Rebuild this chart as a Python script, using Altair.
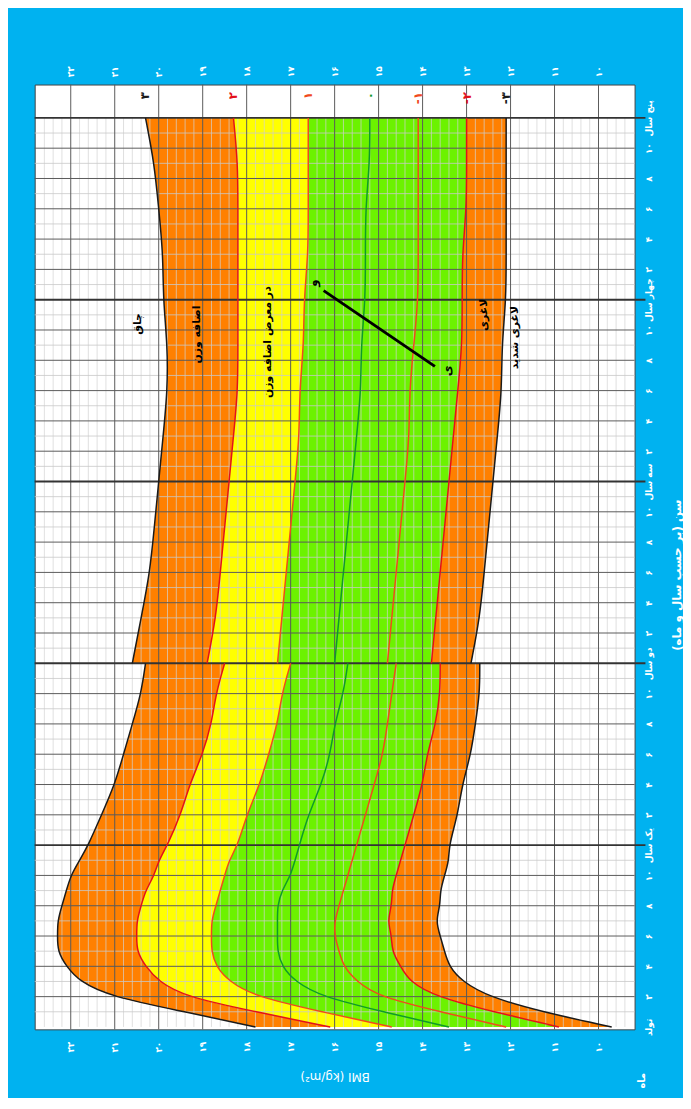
import json
import altair as alt
import pandas as pd

# ---------------- data (WHO BMI-for-age, boys) ----------------
ages_len = list(range(0, 25))      # birth .. 2 years (length based)
ages_hgt = list(range(24, 61))     # 2 .. 5 years (height based)

sd3_len  = [17.8, 19.4, 21.1, 21.8, 22.1, 22.3, 22.3, 22.3, 22.2, 22.1, 22.0, 21.8, 21.6, 21.5, 21.3, 21.2, 21.0, 20.9, 20.8, 20.7, 20.6, 20.5, 20.4, 20.3, 20.3]
sd2_len  = [16.1, 17.8, 19.4, 20.0, 20.3, 20.5, 20.5, 20.5, 20.4, 20.3, 20.1, 20.0, 19.8, 19.7, 19.5, 19.4, 19.3, 19.1, 19.0, 18.9, 18.8, 18.7, 18.7, 18.6, 18.5]
sd1_len  = [14.7, 16.3, 17.8, 18.4, 18.7, 18.8, 18.8, 18.8, 18.7, 18.6, 18.5, 18.4, 18.2, 18.1, 18.0, 17.8, 17.7, 17.6, 17.5, 17.4, 17.3, 17.2, 17.2, 17.1, 17.0]
sd0_len  = [13.4, 14.9, 16.3, 16.9, 17.2, 17.3, 17.3, 17.3, 17.3, 17.2, 17.0, 16.9, 16.8, 16.7, 16.6, 16.4, 16.3, 16.2, 16.1, 16.1, 16.0, 15.9, 15.8, 15.8, 15.7]
sd1n_len = [12.1, 13.6, 15.0, 15.5, 15.8, 15.9, 16.0, 16.0, 15.9, 15.8, 15.7, 15.6, 15.5, 15.4, 15.3, 15.2, 15.1, 15.0, 14.9, 14.9, 14.8, 14.7, 14.7, 14.6, 14.6]
sd2n_len = [10.9, 12.4, 13.7, 14.3, 14.5, 14.7, 14.7, 14.8, 14.7, 14.7, 14.6, 14.5, 14.4, 14.3, 14.2, 14.1, 14.0, 13.9, 13.9, 13.8, 13.7, 13.7, 13.6, 13.6, 13.6]
sd3n_len = [9.7, 11.3, 12.5, 13.1, 13.4, 13.5, 13.6, 13.7, 13.6, 13.6, 13.5, 13.4, 13.4, 13.3, 13.2, 13.1, 13.1, 13.0, 12.9, 12.9, 12.8, 12.8, 12.7, 12.7, 12.7]

sd3_hgt  = [20.6, 20.5, 20.5, 20.4, 20.4, 20.3, 20.2, 20.2, 20.1, 20.1, 20.0, 20.0, 20.0, 19.9, 19.9, 19.9, 19.9, 19.9, 19.8, 19.8, 19.8, 19.8, 19.8, 19.9, 19.9, 19.9, 19.9, 19.9, 19.9, 20.0, 20.0, 20.0, 20.1, 20.1, 20.2, 20.2, 20.3]
sd2_hgt  = [18.9, 18.8, 18.8, 18.7, 18.7, 18.6, 18.6, 18.5, 18.5, 18.5, 18.4, 18.4, 18.4, 18.3, 18.3, 18.3, 18.2, 18.2, 18.2, 18.2, 18.2, 18.2, 18.2, 18.2, 18.2, 18.2, 18.2, 18.2, 18.2, 18.2, 18.2, 18.2, 18.2, 18.2, 18.3, 18.3, 18.3]
sd1_hgt  = [17.3, 17.3, 17.3, 17.2, 17.2, 17.1, 17.1, 17.1, 17.0, 17.0, 17.0, 16.9, 16.9, 16.9, 16.8, 16.8, 16.8, 16.8, 16.8, 16.7, 16.7, 16.7, 16.7, 16.7, 16.7, 16.7, 16.7, 16.6, 16.6, 16.6, 16.6, 16.6, 16.6, 16.6, 16.6, 16.6, 16.6]
sd0_hgt  = [16.0, 16.0, 15.9, 15.9, 15.9, 15.8, 15.8, 15.8, 15.7, 15.7, 15.7, 15.6, 15.6, 15.6, 15.5, 15.5, 15.5, 15.5, 15.4, 15.4, 15.4, 15.4, 15.4, 15.3, 15.3, 15.3, 15.3, 15.3, 15.3, 15.3, 15.3, 15.2, 15.2, 15.2, 15.2, 15.2, 15.2]
sd1n_hgt = [14.8, 14.8, 14.8, 14.7, 14.7, 14.7, 14.6, 14.6, 14.6, 14.5, 14.5, 14.5, 14.4, 14.4, 14.4, 14.3, 14.3, 14.3, 14.3, 14.2, 14.2, 14.2, 14.2, 14.2, 14.1, 14.1, 14.1, 14.1, 14.1, 14.1, 14.1, 14.1, 14.1, 14.1, 14.1, 14.1, 14.1]
sd2n_hgt = [13.8, 13.8, 13.7, 13.7, 13.6, 13.6, 13.6, 13.5, 13.5, 13.5, 13.4, 13.4, 13.4, 13.3, 13.3, 13.3, 13.2, 13.2, 13.2, 13.2, 13.1, 13.1, 13.1, 13.1, 13.1, 13.1, 13.1, 13.1, 13.0, 13.0, 13.0, 13.0, 13.0, 13.0, 13.0, 13.0, 13.0]
sd3n_hgt = [12.9, 12.8, 12.8, 12.7, 12.7, 12.7, 12.6, 12.6, 12.5, 12.5, 12.5, 12.4, 12.4, 12.4, 12.3, 12.3, 12.3, 12.2, 12.2, 12.2, 12.2, 12.2, 12.2, 12.1, 12.1, 12.1, 12.1, 12.1, 12.1, 12.1, 12.1, 12.1, 12.1, 12.1, 12.1, 12.1, 12.1]

z_keys = ["sd3", "sd2", "sd1", "sd0", "sd1n", "sd2n", "sd3n"]
z_line_colors = ["#1a1a1a", "#E3101A", "#F04A1C", "#0E9A2A", "#F04A1C", "#E3101A", "#1a1a1a"]
z_label_text = ["۳", "۲", "۱", "۰", "-۱", "-۲", "-۳"]

band_hi = ["sd3", "sd2", "sd1", "sd2n"]
band_lo = ["sd2", "sd1", "sd2n", "sd3n"]
band_fill = ["#FF8000", "#FFFF00", "#6CF200", "#FF8000"]

bmi_ticks = list(range(10, 23))
bmi_tick_labels = ["۱۰", "۱۱", "۱۲", "۱۳", "۱۴", "۱۵", "۱۶", "۱۷", "۱۸", "۱۹", "۲۰", "۲۱", "۲۲"]
age_ticks = list(range(0, 61, 2))
year_labels = ["تولد", "یک سال", "دو سال", "سه سال", "چهار سال", "پنج سال"]
month_labels = ["۲", "۴", "۶", "۸", "۱۰"]
year_lines = [12, 24, 36, 48, 60]

zone_text = ["چاق", "اضافه وزن", "در معرض اضافه وزن", "لاغری", "لاغری شدید"]
zone_bmi = [20.47, 19.12, 17.51, 12.61, 11.89]
zone_age = [46.4, 45.7, 45.2, 47.0, 45.5]

note_bmi = [16.25, 13.72]
note_age = [48.6, 43.6]
note_text = ["و", "ی"]
note_text_bmi = [16.5, 13.45]
note_text_age = [49.1, 43.3]

# ---------------- tables ----------------
S_len = dict(zip(z_keys, [sd3_len, sd2_len, sd1_len, sd0_len, sd1n_len, sd2n_len, sd3n_len]))
S_hgt = dict(zip(z_keys, [sd3_hgt, sd2_hgt, sd1_hgt, sd0_hgt, sd1n_hgt, sd2n_hgt, sd3n_hgt]))
# points used for drawing the smooth curves (a subset of the monthly readings)
use_len = [i for i, a in enumerate(ages_len) if a <= 12 or a % 2 == 0]
use_hgt = [i for i, a in enumerate(ages_hgt) if (a - 24) % 3 == 0]
segments = [("len", ages_len, S_len, use_len), ("hgt", ages_hgt, S_hgt, use_hgt)]

rows = []
for k in z_keys:
    for seg, ages, S, idx in segments:
        for j in idx:
            rows.append({"z": k, "key": k + seg, "age": ages[j], "bmi": S[k][j]})
curves = pd.DataFrame(rows)

brows = []
for i, (hi, lo, col) in enumerate(zip(band_hi, band_lo, band_fill)):
    for seg, ages, S, idx in segments:
        for j in idx:
            brows.append({"key": f"b{i}{seg}", "fill": col, "age": ages[j], "hi": S[hi][j], "lo": S[lo][j]})
bands_df = pd.DataFrame(brows)

age_tick_labels = []
for a in age_ticks:
    age_tick_labels.append(year_labels[a // 12] if a % 12 == 0 else month_labels[(a % 12) // 2 - 1])

minor_bmi = [round(9.4 + 0.2 * i, 1) for i in range(68)]
minor_bmi = [v for v in minor_bmi if abs(v - round(v)) > 1e-6 and v < 22.8]
odd_months = list(range(1, 60, 2))
even_months = [m for m in range(2, 60, 2) if m % 12 != 0]

FONT = "DejaVu Sans"
W, H = 607, 956
CURVE = "basis"
xs = alt.Scale(domain=[9.18, 22.82], reverse=True, nice=False, zero=False)
ys = alt.Scale(domain=[-0.16, 62.2], nice=False, zero=False)

bmi_expr = json.dumps(bmi_tick_labels, ensure_ascii=False) + "[round(datum.value) - 10]"
age_expr = json.dumps(age_tick_labels, ensure_ascii=False) + "[round(datum.value / 2)]"

axis_common = dict(grid=False, ticks=False, domain=False, labelAngle=270, labelColor="white",
                   labelFont=FONT, labelFontSize=9, labelFontWeight="bold", labelOverlap=False)

# ---------------- layers ----------------
bands = alt.Chart(bands_df).mark_area(orient="horizontal", interpolate=CURVE, strokeWidth=0).encode(
    y=alt.Y("age:Q", scale=ys, axis=None),
    x=alt.X("hi:Q", scale=xs, axis=None),
    x2="lo:Q",
    color=alt.Color("fill:N", scale=None),
    detail="key:N",
)

minor_v = alt.Chart(pd.DataFrame({"bmi": minor_bmi, "a0": 0, "a1": 60})).mark_rule(
    color="#d2d2d2", strokeWidth=0.7).encode(
    x=alt.X("bmi:Q", scale=xs, axis=alt.Axis(orient="top", values=bmi_ticks, labelExpr=bmi_expr,
                                             labelAlign="left", labelBaseline="middle", labelPadding=8,
                                             title=None, **axis_common)),
    y=alt.Y("a0:Q", scale=ys, axis=None),
    y2="a1:Q",
)

major_v = alt.Chart(pd.DataFrame({"bmi": bmi_ticks})).mark_rule(color="#5a5a5a", strokeWidth=1).encode(
    x=alt.X("bmi:Q", scale=xs, axis=alt.Axis(orient="bottom", values=bmi_ticks, labelExpr=bmi_expr,
                                             labelAlign="right", labelBaseline="middle", labelPadding=12,
                                             title="BMI (kg/m²)", titleAngle=180, titleColor="white",
                                             titleFont=FONT, titleFontSize=12, titleFontWeight="normal",
                                             titleBaseline="middle", titleY=48, **axis_common)),
)

light_h = alt.Chart(pd.DataFrame({"age": odd_months})).mark_rule(color="#c8c8c8", strokeWidth=0.8).encode(
    y=alt.Y("age:Q", scale=ys, axis=None))

dark_h = alt.Chart(pd.DataFrame({"age": even_months})).mark_rule(color="#5a5a5a", strokeWidth=1).encode(
    y=alt.Y("age:Q", scale=ys, axis=alt.Axis(orient="right", values=age_ticks, labelExpr=age_expr,
                                             labelAlign="center", labelBaseline="top", labelPadding=10,
                                             title="سن (بر حسب سال و ماه)", titleAngle=270,
                                             titleColor="white", titleFont=FONT, titleFontSize=12,
                                             titleFontWeight="bold", titleBaseline="top", titleAlign="center",
                                             titleX=37, titleY=496, **axis_common)))

year_h = alt.Chart(pd.DataFrame({"age": year_lines})).mark_rule(color="#333333", strokeWidth=2).encode(
    y=alt.Y("age:Q", scale=ys, axis=None), x=alt.value(0), x2=alt.value(618))

lines = alt.Chart(curves).mark_line(interpolate=CURVE, strokeWidth=1.5).encode(
    x=alt.X("bmi:Q", scale=xs, axis=None),
    y=alt.Y("age:Q", scale=ys, axis=None),
    color=alt.Color("z:N", scale=alt.Scale(domain=z_keys, range=z_line_colors), legend=None),
    detail="key:N",
    order="age:Q",
)

zlab_df = pd.DataFrame({"t": z_label_text, "bmi": [S_hgt[k][-1] for k in z_keys],
                        "col": z_line_colors, "age": 61.7})
zlabels = alt.Chart(zlab_df).mark_text(angle=270, align="right", baseline="middle", font=FONT,
                                       fontSize=12, fontWeight="bold").encode(
    x=alt.X("bmi:Q", scale=xs, axis=None), y=alt.Y("age:Q", scale=ys, axis=None),
    text="t:N", color=alt.Color("col:N", scale=None))

zones = alt.Chart(pd.DataFrame({"t": zone_text, "bmi": zone_bmi, "age": zone_age})).mark_text(
    angle=270, align="center", baseline="middle", font=FONT, fontSize=11, fontWeight="bold",
    color="black").encode(
    x=alt.X("bmi:Q", scale=xs, axis=None), y=alt.Y("age:Q", scale=ys, axis=None), text="t:N")

note_line = alt.Chart(pd.DataFrame({"bmi": note_bmi, "age": note_age})).mark_line(
    color="black", strokeWidth=3).encode(
    x=alt.X("bmi:Q", scale=xs, axis=None), y=alt.Y("age:Q", scale=ys, axis=None), order="age:Q")

note_txt = alt.Chart(pd.DataFrame({"t": note_text, "bmi": note_text_bmi, "age": note_text_age})).mark_text(
    angle=270, font=FONT, fontSize=12, fontWeight="bold", color="black").encode(
    x=alt.X("bmi:Q", scale=xs, axis=None), y=alt.Y("age:Q", scale=ys, axis=None), text="t:N")

month_word = alt.Chart(pd.DataFrame({"t": ["ماه"]})).mark_text(
    angle=270, font=FONT, fontSize=10, fontWeight="bold", color="white").encode(
    x=alt.value(615), y=alt.value(1008), text="t:N")

chart = alt.layer(
    bands, minor_v, light_h, major_v, dark_h, year_h, lines, zlabels, zones, note_line, note_txt, month_word
).resolve_axis(x="independent", y="independent").properties(
    width=W, height=H, background="#00B2F0",
    padding={"left": 27, "top": 71, "right": 49, "bottom": 63},
    autosize=alt.AutoSizeParams(type="none"),
).configure_view(stroke="#444444", strokeWidth=1, fill="white")

chart.save("out.html", embed_options={"renderer": "svg", "actions": False})
